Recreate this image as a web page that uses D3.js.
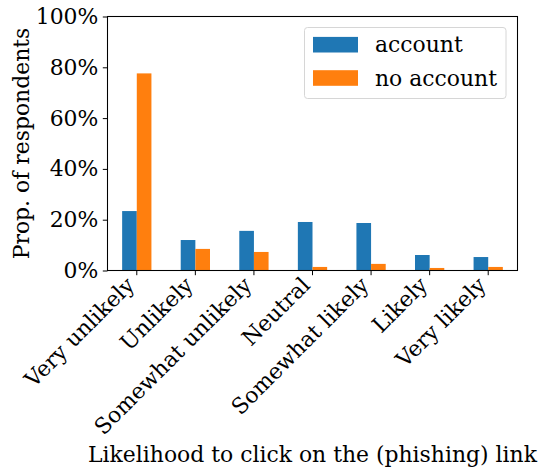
<!DOCTYPE html>
<html>
<head>
<meta charset="utf-8">
<script src="https://cdn.jsdelivr.net/npm/d3@7"></script>
<style>
  body { margin: 0; background: #fff; }
  svg { display: block; font-family: "DejaVu Serif", serif; }
</style>
</head>
<body>
<svg id="chart" width="538" height="471"></svg>
<script>
// data (percent of respondents)
const categories = ["Very unlikely", "Unlikely", "Somewhat unlikely", "Neutral", "Somewhat likely", "Likely", "Very likely"];
const seriesNames = ["account", "no account"];
const accountVals = [23.4, 12.0, 15.6, 19.1, 18.7, 6.1, 5.3];
const noAccountVals = [77.6, 8.5, 7.3, 1.4, 2.6, 1.0, 1.4];
const yTicks = [0, 20, 40, 60, 80, 100];

const colors = ["#1f77b4", "#ff7f0e"];
const fontSize = 21.9;

const svg = d3.select("#chart");
const plot = { left: 107.5, right: 517.5, top: 16.5, bottom: 270.5 };

// rows for bars
const rows = [];
categories.forEach((c, i) => {
    rows.push({ cat: c, series: seriesNames[0], value: accountVals[i] });
    rows.push({ cat: c, series: seriesNames[1], value: noAccountVals[i] });
});

const x = d3.scaleBand()
    .domain(categories)
    .range([plot.left, plot.right])
    .padding(0);

// each bar is a quarter of the category width, pair centred on the tick
const xInner = d3.scaleBand()
    .domain(seriesNames)
    .range([x.bandwidth() * 0.25, x.bandwidth() * 0.75])
    .padding(0);

const y = d3.scaleLinear()
    .domain([0, 100])
    .range([plot.bottom, plot.top]);

const color = d3.scaleOrdinal().domain(seriesNames).range(colors);

// bars
svg.append("g")
    .selectAll("rect")
    .data(rows)
    .enter()
    .append("rect")
    .attr("x", d => x(d.cat) + xInner(d.series))
    .attr("y", d => y(d.value))
    .attr("width", xInner.bandwidth())
    .attr("height", d => y(0) - y(d.value))
    .attr("fill", d => color(d.series));

// y axis
const yAxis = svg.append("g")
    .attr("transform", `translate(${plot.left},0)`)
    .call(d3.axisLeft(y)
        .tickValues(yTicks)
        .tickSize(4.7)
        .tickPadding(4.5)
        .tickFormat(d => d + "%"));
yAxis.select(".domain").remove();
yAxis.selectAll("text")
    .attr("font-family", "DejaVu Serif")
    .attr("font-size", fontSize)
    .attr("fill", "#000");
yAxis.selectAll("line").attr("stroke", "#000").attr("stroke-width", 1);

// x axis
const xAxis = svg.append("g")
    .attr("transform", `translate(0,${plot.bottom})`)
    .call(d3.axisBottom(x).tickSize(4.7).tickFormat(""));
xAxis.select(".domain").remove();
xAxis.selectAll("line").attr("stroke", "#000").attr("stroke-width", 1);

// rotated category labels
svg.append("g")
    .selectAll("text")
    .data(categories)
    .enter()
    .append("text")
    .attr("transform", d => `translate(${x(d) + x.bandwidth() / 2 - 1},${plot.bottom + 16}) rotate(-45)`)
    .attr("text-anchor", "end")
    .attr("font-size", fontSize)
    .attr("fill", "#000")
    .text(d => d);

// spines
svg.append("rect")
    .attr("x", plot.left)
    .attr("y", plot.top)
    .attr("width", plot.right - plot.left)
    .attr("height", plot.bottom - plot.top)
    .attr("fill", "none")
    .attr("stroke", "#000")
    .attr("stroke-width", 1.07);

// axis titles
svg.append("text")
    .attr("x", (plot.left + plot.right) / 2)
    .attr("y", 461.5)
    .attr("text-anchor", "middle")
    .attr("font-size", fontSize)
    .attr("fill", "#000")
    .text("Likelihood to click on the (phishing) link");

svg.append("text")
    .attr("transform", `translate(29,${(plot.top + plot.bottom) / 2}) rotate(-90)`)
    .attr("text-anchor", "middle")
    .attr("font-size", fontSize)
    .attr("fill", "#000")
    .text("Prop. of respondents");

// legend
const legend = svg.append("g").attr("transform", "translate(304.5,27.5)");
legend.append("rect")
    .attr("width", 201.5)
    .attr("height", 71)
    .attr("rx", 3)
    .attr("fill", "#fff")
    .attr("fill-opacity", 0.8)
    .attr("stroke", "#d6d6d6")
    .attr("stroke-width", 1);

const items = legend.selectAll("g.item")
    .data(seriesNames)
    .enter()
    .append("g")
    .attr("class", "item")
    .attr("transform", (d, i) => `translate(8.5,${17.2 + i * 33.3})`);
items.append("rect")
    .attr("x", 0)
    .attr("y", -7.8)
    .attr("width", 45)
    .attr("height", 15.6)
    .attr("fill", d => color(d));
items.append("text")
    .attr("x", 62)
    .attr("y", 0)
    .attr("dy", "0.35em")
    .attr("font-size", fontSize)
    .attr("fill", "#000")
    .text(d => d);
</script>
</body>
</html>
